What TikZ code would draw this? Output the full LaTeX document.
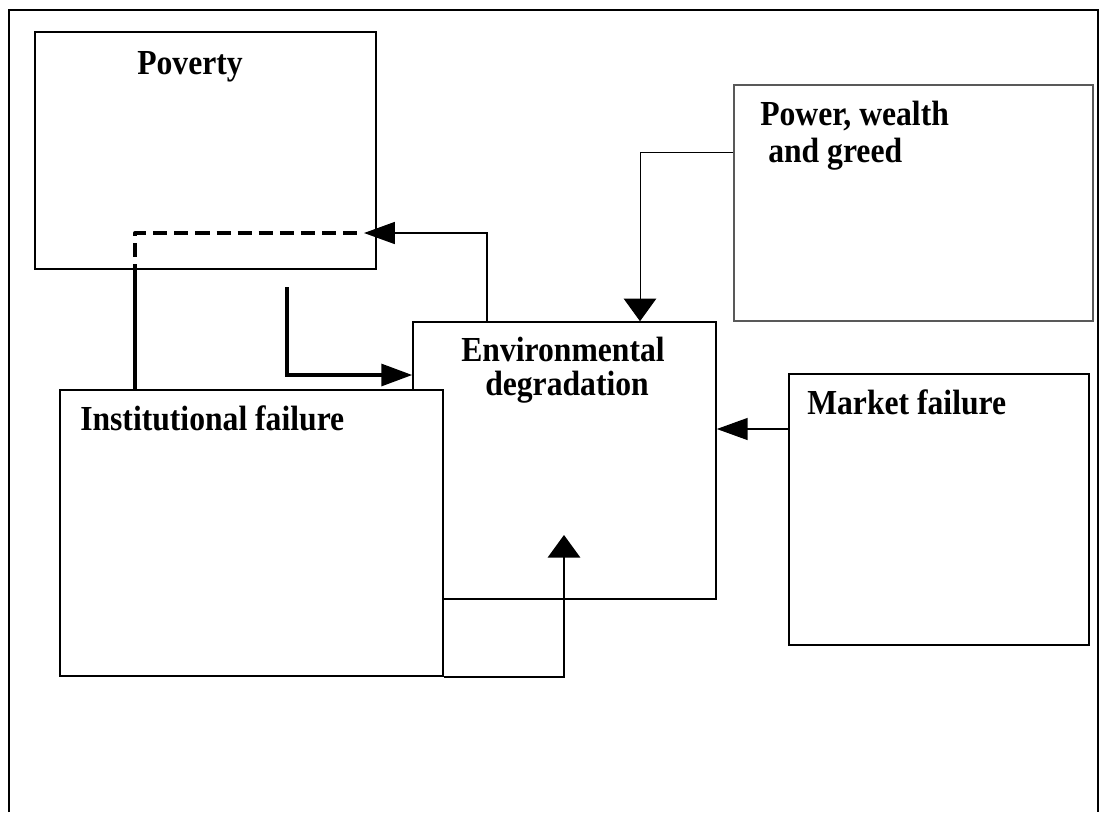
\documentclass[tikz,border=0pt]{standalone}
\usepackage{fontspec}
\setmainfont{Liberation Serif}[FakeStretch=0.9]
\usetikzlibrary{arrows.meta,fit,positioning}

\begin{document}
\begin{tikzpicture}[x=0.025cm,y=-0.025cm]
\tikzstyle{box} = [rectangle, draw=black, line width=1.1pt, fill=white, inner sep=0pt]
\tikzstyle{greybox} = [rectangle, draw=black!65, line width=0.8pt, fill=white, inner sep=0pt]
\tikzstyle{lbl} = [font=\fontsize{25}{28}\selectfont\bfseries, inner sep=0pt]
\tikzstyle{harrow} = [-{Triangle[length=22pt,width=15.6pt]}]
\tikzstyle{varrow} = [-{Triangle[length=16pt,width=23pt]}]
\useasboundingbox (0,0) rectangle (1107,812);
% frame, open at the bottom
\draw[line width=1.2pt] (9,812) -- (9,10) -- (1098,10) -- (1098,812);
% boxes
\node[box, fit={(35,32) (376,269)}] (pov) {};
\node[greybox, fit={(734,85) (1093,321)}] (power) {};
\node[box, fit={(413,322) (716,599)}] (env) {};
\node[box, fit={(789,374) (1089,645)}] (market) {};
\node[box, fit={(60,390) (443,676)}] (inst) {};
% texts
\node[lbl, anchor=base west] (povtxt) at (137,74) {Poverty};
\node[lbl, anchor=base west] (powtxt) at (760,125) {Power, wealth};
\node[lbl, anchor=base west] (powtxtb) at (768,162) {and greed};
\node[lbl, anchor=base] (envtxt) at (563,361) {Environmental};
\node[lbl, anchor=base] (envtxtb) at (567,395) {degradation};
\node[lbl, anchor=base west] (insttxt) at (80,430) {Institutional failure};
\node[lbl, anchor=base west] (mkttxt) at (807,414) {Market failure};
% bends and free ends
\coordinate (povin) at (364,233);
\coordinate (envup) at (487,233);
\coordinate (dashstart) at (135,278);
\coordinate (povout) at (287,287);
\coordinate (povbend) at (287,375);
\coordinate (powbend) at (640,152);
\coordinate (mktout) at (789,429);
\coordinate (envin) at (564,535);
% connectors
\draw[line width=2.6pt] (inst.north -| dashstart) -- (dashstart);
\draw[line width=2.3pt, dash pattern=on 10pt off 5pt, line join=round] (dashstart) |- (povin);
\draw[harrow, line width=1.4pt] (envup |- env.north) -- (envup) -- (povin);
\draw[harrow, line width=2.4pt] (povout) -- (povbend) -- (povbend -| env.west);
\draw[varrow, line width=0.7pt] (powbend -| power.west) -- (powbend) -- (powbend |- env.north);
\draw[harrow, line width=1.2pt] (mktout) -- (mktout -| env.east);
\draw[varrow, line width=1.2pt] (inst.south east) -| (envin);
\end{tikzpicture}
\end{document}
